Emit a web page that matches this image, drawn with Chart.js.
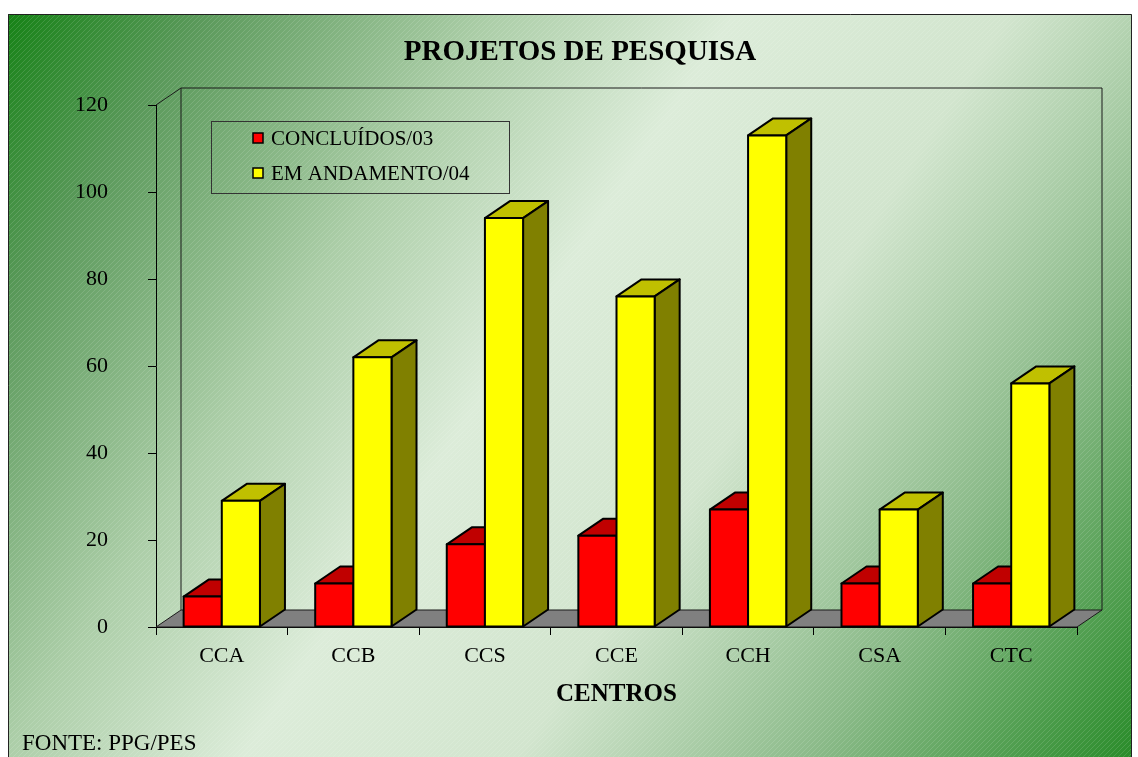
<!DOCTYPE html>
<html>
<head>
<meta charset="utf-8">
<title>Projetos de Pesquisa</title>
<script src="https://cdn.jsdelivr.net/npm/chart.js@4.4.1/dist/chart.umd.min.js"></script>
<style>
    html, body { margin: 0; padding: 0; background: #fff; }
    #wrap { width: 1138px; height: 757px; position: relative; }
</style>
</head>
<body>
<div id="wrap"><canvas id="projetosChart"></canvas></div>
<script>
// === data ===
const categories = ["CCA", "CCB", "CCS", "CCE", "CCH", "CSA", "CTC"];
const concluidos = [7, 10, 19, 21, 27, 10, 10];
const emAndamento = [29, 62, 94, 76, 113, 27, 56];
const seriesNames = ["CONCLUÍDOS/03", "EM ANDAMENTO/04"];
const yTicks = { min: 0, max: 120, step: 20 };

const SERIF = "'Liberation Serif', 'Times New Roman', serif";
const DX = 25, DY = -17; // 3D depth offset

// face colours: front, top, side
const redFaces = ["#ff0000", "#c00000", "#800000"];
const yellowFaces = ["#ffff00", "#c0c000", "#808000"];
const faceSets = [redFaces, yellowFaces];

// background gradient + stripes + frame + texts
const backgroundPlugin = {
    id: "background",
    beforeDraw(chart) {
        const ctx = chart.ctx;
        const W = chart.width, H = chart.height;
        ctx.save();
        ctx.fillStyle = "#fff";
        ctx.fillRect(0, 0, W, H);

        const g = ctx.createLinearGradient(8, 14, 1132, 757);
        g.addColorStop(0, "#168216");
        g.addColorStop(0.12, "#5a995a");
        g.addColorStop(0.3, "#acceA8");
        g.addColorStop(0.45, "#dcecd9");
        g.addColorStop(0.62, "#d2e5ce");
        g.addColorStop(0.8, "#8cbb8a");
        g.addColorStop(1, "#2a8c2a");
        ctx.fillStyle = g;
        ctx.fillRect(8, 14, 1124, H - 14);

        // fine diagonal texture
        const p = document.createElement("canvas");
        p.width = 5; p.height = 5;
        const pc = p.getContext("2d");
        pc.strokeStyle = "rgba(255,255,255,0.13)";
        pc.lineWidth = 1;
        pc.beginPath();
        pc.moveTo(0, 5); pc.lineTo(5, 0);
        pc.stroke();
        ctx.fillStyle = ctx.createPattern(p, "repeat");
        ctx.fillRect(8, 14, 1124, H - 14);

        ctx.strokeStyle = "#222";
        ctx.lineWidth = 1;
        ctx.beginPath();
        ctx.moveTo(8.5, H);
        ctx.lineTo(8.5, 14.5);
        ctx.lineTo(1131.5, 14.5);
        ctx.lineTo(1131.5, H);
        ctx.stroke();

        // title
        ctx.fillStyle = "#000";
        ctx.font = "bold 29px " + SERIF;
        ctx.textAlign = "center";
        ctx.textBaseline = "middle";
        ctx.fillText("PROJETOS DE PESQUISA", 580, 53);

        // source note
        ctx.font = "23px " + SERIF;
        ctx.textAlign = "left";
        ctx.textBaseline = "alphabetic";
        ctx.fillText("FONTE: PPG/PES", 22, 750);
        ctx.restore();
    }
};

// back wall + floor
const framePlugin = {
    id: "frame3d",
    beforeDatasetsDraw(chart) {
        const { ctx, chartArea } = chart;
        const { left, right, top, bottom } = chartArea;
        ctx.save();
        ctx.lineWidth = 1;
        ctx.strokeStyle = "#1a1a1a";

        // back wall outline
        ctx.beginPath();
        ctx.moveTo(left, top);
        ctx.lineTo(left + DX, top + DY);
        ctx.lineTo(right + DX, top + DY);
        ctx.lineTo(right + DX, bottom + DY);
        ctx.moveTo(left + DX, top + DY);
        ctx.lineTo(left + DX, bottom + DY);
        ctx.stroke();

        // floor
        ctx.beginPath();
        ctx.moveTo(left, bottom);
        ctx.lineTo(right, bottom);
        ctx.lineTo(right + DX, bottom + DY);
        ctx.lineTo(left + DX, bottom + DY);
        ctx.closePath();
        ctx.fillStyle = "#808080";
        ctx.fill();
        ctx.stroke();
        ctx.restore();
    }
};

// front, top and side faces of each bar, series 0 first
const bars3dPlugin = {
    id: "bars3d",
    afterDatasetsDraw(chart) {
        const ctx = chart.ctx;
        ctx.save();
        ctx.lineWidth = 2;
        ctx.lineJoin = "round";
        ctx.strokeStyle = "#000";
        chart.data.datasets.forEach((ds, i) => {
            const faces = faceSets[i];
            chart.getDatasetMeta(i).data.forEach(bar => {
                const { x, y, width, base } = bar.getProps(["x", "y", "width", "base"], true);
                const l = x - width / 2, r = x + width / 2;

                ctx.beginPath();
                ctx.moveTo(l, y);
                ctx.lineTo(l + DX, y + DY);
                ctx.lineTo(r + DX, y + DY);
                ctx.lineTo(r, y);
                ctx.closePath();
                ctx.fillStyle = faces[1];
                ctx.fill();
                ctx.stroke();

                ctx.beginPath();
                ctx.moveTo(r, y);
                ctx.lineTo(r + DX, y + DY);
                ctx.lineTo(r + DX, base + DY);
                ctx.lineTo(r, base);
                ctx.closePath();
                ctx.fillStyle = faces[2];
                ctx.fill();
                ctx.stroke();

                ctx.fillStyle = faces[0];
                ctx.fillRect(l, y, width, base - y);
                ctx.strokeRect(l, y, width, base - y);
            });
        });
        ctx.restore();
    }
};

// boxed legend inside the plot
const legendPlugin = {
    id: "boxLegend",
    afterDraw(chart) {
        const ctx = chart.ctx;
        ctx.save();
        ctx.strokeStyle = "#333";
        ctx.lineWidth = 1;
        ctx.strokeRect(211.5, 121.5, 298, 72);
        ctx.font = "21px " + SERIF;
        ctx.textBaseline = "middle";
        ctx.textAlign = "left";
        chart.data.datasets.forEach((ds, i) => {
            const cy = 138 + i * 35;
            ctx.fillStyle = ds.backgroundColor;
            ctx.fillRect(253, cy - 5, 10, 10);
            ctx.strokeStyle = "#000";
            ctx.lineWidth = 1.5;
            ctx.strokeRect(253, cy - 5, 10, 10);
            ctx.fillStyle = "#000";
            ctx.fillText(ds.label, 271, cy + 1);
        });
        ctx.restore();
    }
};

const ctx = document.getElementById("projetosChart").getContext("2d");

new Chart(ctx, {
    type: "bar",
    data: {
        labels: categories,
        datasets: [
            {
                label: seriesNames[0],
                data: concluidos,
                backgroundColor: redFaces[0],
                borderWidth: 0
            },
            {
                label: seriesNames[1],
                data: emAndamento,
                backgroundColor: yellowFaces[0],
                borderWidth: 0
            }
        ]
    },
    options: {
        responsive: true,
        maintainAspectRatio: false,
        animation: false,
        datasets: {
            bar: { categoryPercentage: 0.58, barPercentage: 1 }
        },
        layout: { padding: { left: 0, right: 61, top: 105, bottom: 45 } },
        plugins: {
            legend: { display: false },
            title: { display: false },
            tooltip: { enabled: false }
        },
        scales: {
            x: {
                grid: { offset: true, drawOnChartArea: false, tickLength: 8, color: "#000" },
                border: { display: true, color: "#000", width: 1 },
                ticks: { color: "#000", padding: 8, font: { family: SERIF, size: 22 } },
                title: {
                    display: true,
                    text: "CENTROS",
                    color: "#000",
                    font: { family: SERIF, size: 25, weight: "bold" },
                    padding: { top: 0, bottom: 2 }
                },
                afterFit: scale => { scale.height = 85; }
            },
            y: {
                min: yTicks.min,
                max: yTicks.max,
                grid: { drawOnChartArea: false, tickLength: 8, color: "#000" },
                border: { display: true, color: "#000", width: 1 },
                ticks: {
                    stepSize: yTicks.step,
                    color: "#000",
                    padding: 40,
                    font: { family: SERIF, size: 22 }
                },
                afterFit: scale => { scale.width = 156; }
            }
        }
    },
    plugins: [backgroundPlugin, framePlugin, bars3dPlugin, legendPlugin]
});
</script>
</body>
</html>
